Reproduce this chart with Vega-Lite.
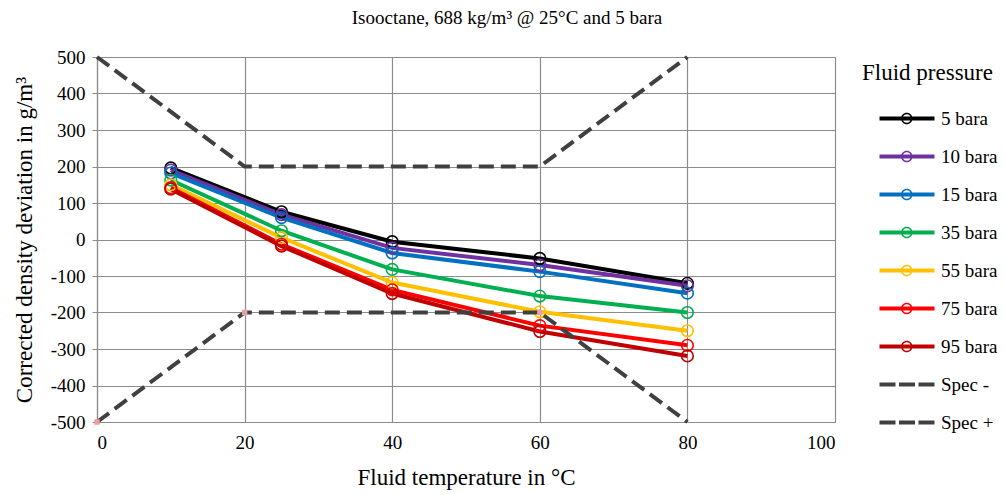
{
  "$schema": "https://vega.github.io/schema/vega-lite/v6.json",
  "width": 738,
  "height": 365,
  "autosize": {"type": "none"},
  "padding": {"left": 97, "top": 57, "right": 170, "bottom": 73},
  "background": "white",
  "title": {
    "text": "Isooctane, 688 kg/m³ @ 25°C and 5 bara",
    "font": "Liberation Serif",
    "fontSize": 19,
    "fontWeight": "normal",
    "color": "#000000",
    "offset": 20,
    "dx": 41,
    "anchor": "middle"
  },
  "data": {
    "values": [
      {"series": "5 bara", "kind": "p", "T": 10, "dev": 196},
      {"series": "5 bara", "kind": "p", "T": 25, "dev": 76},
      {"series": "5 bara", "kind": "p", "T": 40, "dev": -6},
      {"series": "5 bara", "kind": "p", "T": 60, "dev": -52},
      {"series": "5 bara", "kind": "p", "T": 80, "dev": -120},
      {"series": "10 bara", "kind": "p", "T": 10, "dev": 190},
      {"series": "10 bara", "kind": "p", "T": 25, "dev": 68},
      {"series": "10 bara", "kind": "p", "T": 40, "dev": -23},
      {"series": "10 bara", "kind": "p", "T": 60, "dev": -70},
      {"series": "10 bara", "kind": "p", "T": 80, "dev": -127},
      {"series": "15 bara", "kind": "p", "T": 10, "dev": 182},
      {"series": "15 bara", "kind": "p", "T": 25, "dev": 60},
      {"series": "15 bara", "kind": "p", "T": 40, "dev": -37},
      {"series": "15 bara", "kind": "p", "T": 60, "dev": -88},
      {"series": "15 bara", "kind": "p", "T": 80, "dev": -147},
      {"series": "35 bara", "kind": "p", "T": 10, "dev": 163},
      {"series": "35 bara", "kind": "p", "T": 25, "dev": 24},
      {"series": "35 bara", "kind": "p", "T": 40, "dev": -82},
      {"series": "35 bara", "kind": "p", "T": 60, "dev": -155},
      {"series": "35 bara", "kind": "p", "T": 80, "dev": -200},
      {"series": "55 bara", "kind": "p", "T": 10, "dev": 150},
      {"series": "55 bara", "kind": "p", "T": 25, "dev": 5},
      {"series": "55 bara", "kind": "p", "T": 40, "dev": -118},
      {"series": "55 bara", "kind": "p", "T": 60, "dev": -198},
      {"series": "55 bara", "kind": "p", "T": 80, "dev": -250},
      {"series": "75 bara", "kind": "p", "T": 10, "dev": 142},
      {"series": "75 bara", "kind": "p", "T": 25, "dev": -13},
      {"series": "75 bara", "kind": "p", "T": 40, "dev": -138},
      {"series": "75 bara", "kind": "p", "T": 60, "dev": -236},
      {"series": "75 bara", "kind": "p", "T": 80, "dev": -290},
      {"series": "95 bara", "kind": "p", "T": 10, "dev": 138},
      {"series": "95 bara", "kind": "p", "T": 25, "dev": -18},
      {"series": "95 bara", "kind": "p", "T": 40, "dev": -148},
      {"series": "95 bara", "kind": "p", "T": 60, "dev": -252},
      {"series": "95 bara", "kind": "p", "T": 80, "dev": -319},
      {"series": "Spec -", "kind": "s", "T": 0, "dev": -500},
      {"series": "Spec -", "kind": "s", "T": 20, "dev": -200},
      {"series": "Spec -", "kind": "s", "T": 60, "dev": -200},
      {"series": "Spec -", "kind": "s", "T": 80, "dev": -500},
      {"series": "Spec +", "kind": "s", "T": 0, "dev": 500},
      {"series": "Spec +", "kind": "s", "T": 20, "dev": 200},
      {"series": "Spec +", "kind": "s", "T": 60, "dev": 200},
      {"series": "Spec +", "kind": "s", "T": 80, "dev": 500}
    ]
  },
  "config": {
    "view": {"stroke": null},
    "axis": {
      "labelFont": "Liberation Serif",
      "titleFont": "Liberation Serif",
      "labelColor": "#000000",
      "titleColor": "#000000",
      "titleFontWeight": "normal",
      "gridColor": "#8c8c8c",
      "gridWidth": 1.2,
      "domainColor": "#8c8c8c",
      "domainWidth": 1.2,
      "tickColor": "#8c8c8c"
    }
  },
  "encoding": {
    "x": {
      "field": "T",
      "type": "quantitative",
      "scale": {"domain": [0, 100], "nice": false, "zero": false},
      "axis": {
        "title": "Fluid temperature in °C",
        "values": [0, 20, 40, 60, 80, 100],
        "labelFontSize": 19,
        "titleFontSize": 23,
        "ticks": false,
        "labelPadding": 11,
        "titlePadding": 14,
        "grid": true
      }
    },
    "y": {
      "field": "dev",
      "type": "quantitative",
      "scale": {"domain": [-500, 500], "nice": false, "zero": false},
      "axis": {
        "title": "Corrected density deviation in g/m³",
        "values": [-500, -400, -300, -200, -100, 0, 100, 200, 300, 400, 500],
        "labelExpr": "replace(datum.label, '−', '-')",
        "labelFontSize": 19,
        "titleFontSize": 23,
        "tickSize": 5,
        "labelPadding": 7,
        "titlePadding": 14,
        "grid": true
      }
    }
  },
  "layer": [
    {
      "transform": [{"filter": "datum.kind == 'p'"}],
      "mark": {"type": "line", "strokeWidth": 4},
      "encoding": {
        "order": {"field": "T", "type": "quantitative"},
        "color": {
          "field": "series",
          "type": "nominal",
          "scale": {
            "domain": ["5 bara", "10 bara", "15 bara", "35 bara", "55 bara", "75 bara", "95 bara", "Spec -", "Spec +"],
            "range": ["#000000", "#7030A0", "#0070C0", "#00B050", "#FFC000", "#FF0000", "#C00000", "#404040", "#404040"]
          },
          "legend": {
            "orient": "none",
            "legendX": 765,
            "legendY": 5,
            "title": "Fluid pressure",
            "titleFont": "Liberation Serif",
            "titleFontSize": 23,
            "titleFontWeight": "normal",
            "titleColor": "#000000",
            "titlePadding": 24,
            "labelFont": "Liberation Serif",
            "labelFontSize": 19,
            "labelColor": "#000000",
            "labelOffset": 60,
            "symbolSize": 100,
            "rowPadding": 18,
            "encode": {
              "symbols": {
                "update": {
                  "shape": {"signal": "indexof(datum.value, 'Spec') >= 0 ? 'M1.6,-0.4H4.8V0.4H1.6Z M5.5,-0.4H8.7V0.4H5.5Z M9.4,-0.4H12.6V0.4H9.4Z' : 'M1.6,-0.4H12.6V0.4H1.6Z M8.2,0A1.15,1.15,0,1,1,5.9,0A1.15,1.15,0,1,1,8.2,0Z M7.9,0A0.85,0.85,0,1,0,6.2,0A0.85,0.85,0,1,0,7.9,0Z'"},
                  "fill": {"scale": "color", "field": "value"},
                  "stroke": {"value": "transparent"},
                  "strokeWidth": {"value": 0},
                  "opacity": {"value": 1},
                  "size": {"value": 100}
                }
              }
            }
          }
        }
      }
    },
    {
      "transform": [{"filter": "datum.kind == 'p'"}],
      "mark": {"type": "point", "shape": "circle", "filled": false, "size": 135, "strokeWidth": 1.6, "opacity": 1},
      "encoding": {
        "color": {"field": "series", "type": "nominal"}
      }
    },
    {
      "transform": [{"filter": "datum.kind == 's'"}],
      "mark": {"type": "line", "strokeWidth": 4, "strokeDash": [15, 7]},
      "encoding": {
        "order": {"field": "T", "type": "quantitative"},
        "color": {"field": "series", "type": "nominal"}
      }
    },
    {
      "transform": [{"filter": "datum.series == 'Spec -' && datum.T < 80"}],
      "mark": {"type": "point", "shape": "square", "filled": true, "size": 30, "color": "#e8a0a0", "opacity": 1},
      "encoding": {}
    }
  ]
}
